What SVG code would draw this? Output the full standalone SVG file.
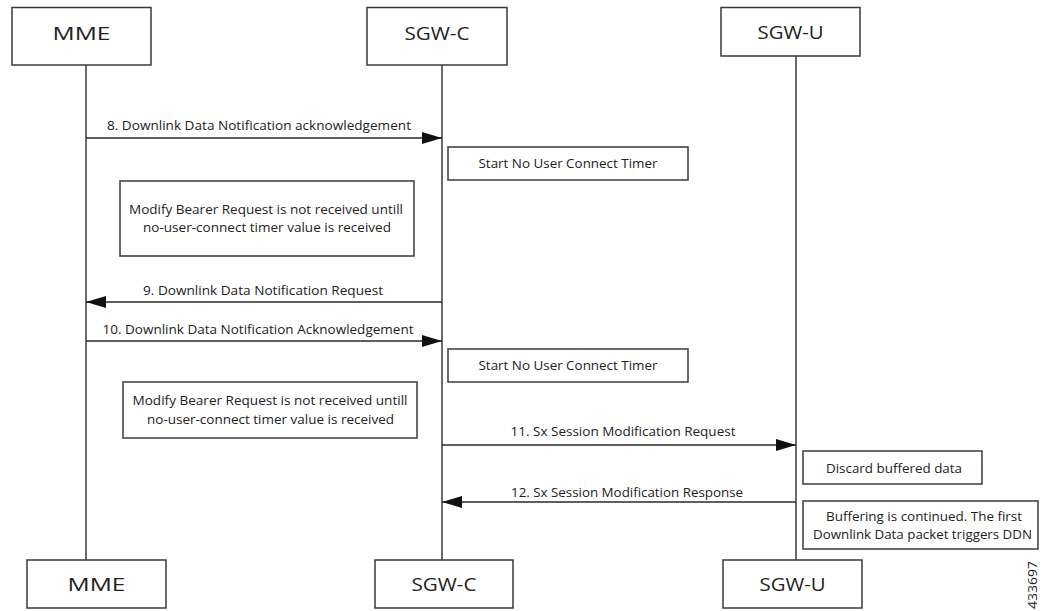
<svg xmlns="http://www.w3.org/2000/svg" width="1045" height="611" viewBox="0 0 1045 611">
<style>
.box{fill:#fff;stroke:#3a3a3a;stroke-width:1.5}
.life{stroke:#3a3a3a;stroke-width:1.5;fill:none}
.msg{stroke:#2a2a2a;stroke-width:1.5;fill:none}
.t{font-family:"Open Sans","Liberation Sans",sans-serif;font-size:12px;fill:#222;text-anchor:middle}
.h{font-family:"Open Sans","Liberation Sans",sans-serif;font-size:18px;fill:#222;text-anchor:middle}
</style>
<defs>
<marker id="ah" viewBox="0 0 20 12" refX="20" refY="6" markerWidth="20" markerHeight="12" markerUnits="userSpaceOnUse" orient="auto">
<path d="M0,0 L20,6 L0,12 Z" fill="#111"/>
</marker>
</defs>
<rect width="1045" height="611" fill="#fff"/>
<g id="lifelines">
<line class="life" x1="86" y1="65" x2="86" y2="560"/>
<line class="life" x1="442" y1="65" x2="442" y2="560"/>
<line class="life" x1="796" y1="56" x2="796" y2="560"/>
</g>
<g id="mme-top"><rect class="box" x="12" y="7.5" width="139" height="57.5"/><text class="h" x="81.5" y="39.5" textLength="58" lengthAdjust="spacingAndGlyphs">MME</text></g>
<g id="sgwc-top"><rect class="box" x="367" y="7.5" width="140" height="57.5"/><text class="h" x="437" y="39.5" textLength="65" lengthAdjust="spacingAndGlyphs">SGW-C</text></g>
<g id="sgwu-top"><rect class="box" x="721" y="7.5" width="139" height="48.5"/><text class="h" x="790.5" y="38.5" textLength="66" lengthAdjust="spacingAndGlyphs">SGW-U</text></g>
<g id="mme-bottom"><rect class="box" x="27" y="560" width="139" height="48"/><text class="h" x="96.5" y="591" textLength="58" lengthAdjust="spacingAndGlyphs">MME</text></g>
<g id="sgwc-bottom"><rect class="box" x="375" y="560" width="138" height="48"/><text class="h" x="444" y="591" textLength="65" lengthAdjust="spacingAndGlyphs">SGW-C</text></g>
<g id="sgwu-bottom"><rect class="box" x="723" y="560" width="139" height="48"/><text class="h" x="792.5" y="591" textLength="66" lengthAdjust="spacingAndGlyphs">SGW-U</text></g>
<g id="timer1"><rect class="box" x="448" y="147" width="240" height="33"/><text class="t" x="568" y="167.5" textLength="179" lengthAdjust="spacingAndGlyphs">Start No User Connect Timer</text></g>
<g id="note1"><rect class="box" x="120" y="181" width="294" height="75"/>
<text class="t" x="266" y="213.5" textLength="274" lengthAdjust="spacingAndGlyphs">Modify Bearer Request is not received untill</text>
<text class="t" x="267" y="232" textLength="248" lengthAdjust="spacingAndGlyphs">no-user-connect timer value is received</text></g>
<g id="timer2"><rect class="box" x="448" y="349" width="240" height="33"/><text class="t" x="568" y="370" textLength="179" lengthAdjust="spacingAndGlyphs">Start No User Connect Timer</text></g>
<g id="note2"><rect class="box" x="123" y="382" width="294" height="56"/>
<text class="t" x="270" y="405" textLength="275" lengthAdjust="spacingAndGlyphs">Modify Bearer Request is not received untill</text>
<text class="t" x="270.5" y="423.5" textLength="247" lengthAdjust="spacingAndGlyphs">no-user-connect timer value is received</text></g>
<g id="discard"><rect class="box" x="803" y="451" width="179" height="33"/><text class="t" x="894" y="472.5" textLength="136" lengthAdjust="spacingAndGlyphs">Discard buffered data</text></g>
<g id="buffering"><rect class="box" x="803" y="501" width="235" height="48"/>
<text class="t" x="924" y="520.5" textLength="196" lengthAdjust="spacingAndGlyphs">Buffering is continued. The first</text>
<text class="t" x="922.5" y="538.5" textLength="219" lengthAdjust="spacingAndGlyphs">Downlink Data packet triggers DDN</text></g>
<g id="connectors">
<line class="msg" x1="86" y1="138" x2="442" y2="138" marker-end="url(#ah)"/>
<line class="msg" x1="442" y1="302" x2="86" y2="302" marker-end="url(#ah)"/>
<line class="msg" x1="86" y1="341" x2="442" y2="341" marker-end="url(#ah)"/>
<line class="msg" x1="442" y1="445" x2="796" y2="445" marker-end="url(#ah)"/>
<line class="msg" x1="796" y1="502" x2="442" y2="502" marker-end="url(#ah)"/>
<text class="t" x="259" y="129.5" textLength="304" lengthAdjust="spacingAndGlyphs">8. Downlink Data Notification acknowledgement</text>
<text class="t" x="263" y="295" textLength="240" lengthAdjust="spacingAndGlyphs">9. Downlink Data Notification Request</text>
<text class="t" x="258" y="334" textLength="311" lengthAdjust="spacingAndGlyphs">10. Downlink Data Notification Acknowledgement</text>
<text class="t" x="623" y="436" textLength="225" lengthAdjust="spacingAndGlyphs">11. Sx Session Modification Request</text>
<text class="t" x="627" y="497" textLength="232" lengthAdjust="spacingAndGlyphs">12. Sx Session Modification Response</text>
</g>
<text class="t" transform="translate(1037,585) rotate(-90)" x="0" y="0" textLength="48" lengthAdjust="spacingAndGlyphs">433697</text>
</svg>
